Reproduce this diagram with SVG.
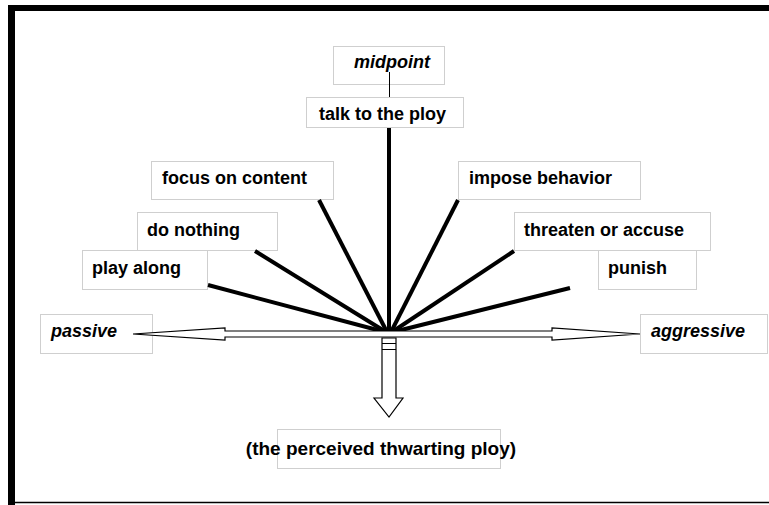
<svg xmlns="http://www.w3.org/2000/svg" width="769" height="505" viewBox="0 0 769 505">
<style>
.box{fill:#fff;stroke:#cfcfcf;stroke-width:1}
.t{font-family:"Liberation Sans",Arial,sans-serif;font-size:18px;font-weight:bold;fill:#000}
.i{font-style:italic}
.spoke{stroke:#000;stroke-width:4;fill:none}
.hollow{fill:#fff;stroke:#000;stroke-width:1.2}
</style>
<rect width="769" height="505" fill="#fff"/>
<g id="frame">
<rect x="8" y="5" width="761" height="6" fill="#000"/>
<rect x="8" y="5" width="7" height="500" fill="#000"/>
<line x1="15" y1="502.5" x2="769" y2="502.5" stroke="#000" stroke-width="1.5"/>
</g>
<g id="midpoint"><rect class="box" x="333.5" y="46.5" width="111" height="38"/><text class="t i" x="354" y="68">midpoint</text></g>
<g id="talk"><rect class="box" x="306.5" y="97.5" width="157" height="30"/><text class="t" x="319" y="120">talk to the ploy</text></g>
<g id="focus"><rect class="box" x="151.5" y="161.5" width="182" height="38"/><text class="t" x="162" y="184">focus on content</text></g>
<g id="donothing"><rect class="box" x="137.5" y="212.5" width="140" height="38"/><text class="t" x="147" y="236">do nothing</text></g>
<g id="playalong"><rect class="box" x="82.5" y="250.5" width="125" height="39"/><text class="t" x="92" y="274">play along</text></g>
<g id="impose"><rect class="box" x="458.5" y="161.5" width="182" height="38"/><text class="t" x="469" y="184">impose behavior</text></g>
<g id="threaten"><rect class="box" x="514.5" y="212.5" width="196" height="38"/><text class="t" x="524" y="236">threaten or accuse</text></g>
<g id="punish"><rect class="box" x="598.5" y="250.5" width="98" height="39"/><text class="t" x="608" y="274">punish</text></g>
<g id="passive"><rect class="box" x="40.5" y="314.5" width="112" height="39"/><text class="t i" x="51" y="337">passive</text></g>
<g id="aggressive"><rect class="box" x="640.5" y="314.5" width="127" height="39"/><text class="t i" x="651" y="337">aggressive</text></g>
<g id="ploy"><rect class="box" x="277.5" y="429.5" width="223" height="39"/><text class="t" x="381" y="455" text-anchor="middle" style="font-size:19px">(the perceived thwarting ploy)</text></g>
<g id="connectors">
<line x1="389.5" y1="72" x2="389.5" y2="97" stroke="#000" stroke-width="1"/>
<line class="spoke" x1="389" y1="128" x2="389" y2="332"/>
<line class="spoke" x1="319" y1="200" x2="387" y2="332"/>
<line class="spoke" x1="255" y1="251" x2="386" y2="332"/>
<line class="spoke" x1="208" y1="285" x2="385" y2="332"/>
<line class="spoke" x1="458" y1="200" x2="391" y2="332"/>
<line class="spoke" x1="514" y1="251" x2="392" y2="332"/>
<line class="spoke" x1="570" y1="288" x2="393" y2="332"/>
<polygon class="hollow" points="133,334 225,328 225,331 552,331 552,328 640,334 552,340 552,337 225,337 225,340"/>
<polygon class="hollow" points="382,338 396,338 396,398 403,398 389,417 374,398 382,398"/>
<line x1="382" y1="343.5" x2="396" y2="343.5" stroke="#000" stroke-width="1"/>
<line x1="382" y1="349.5" x2="396" y2="349.5" stroke="#000" stroke-width="1"/>
</g>
</svg>
